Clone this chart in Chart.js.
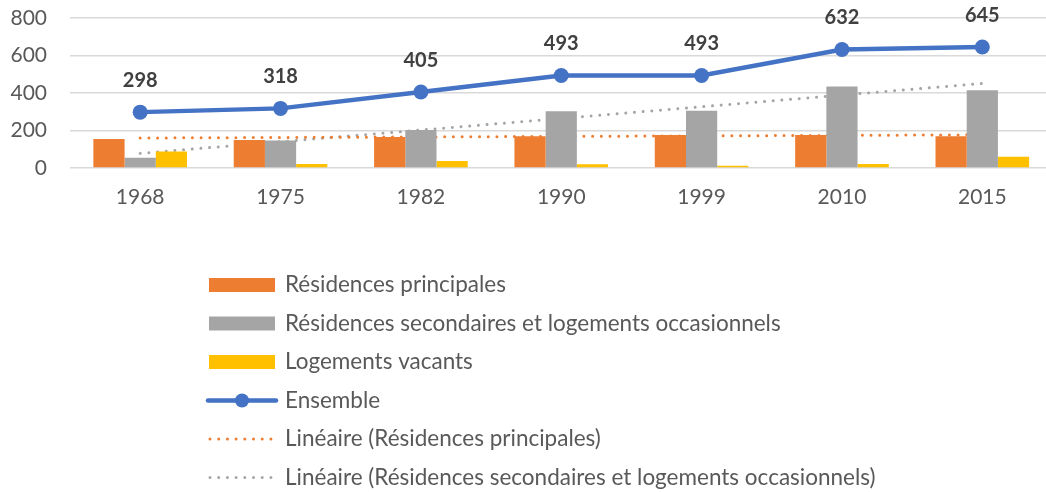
<!DOCTYPE html>
<html>
<head>
<meta charset="utf-8">
<script src="https://cdn.jsdelivr.net/npm/chart.js@4.4.1/dist/chart.umd.min.js"></script>
<style>
  html, body { margin: 0; padding: 0; background: #fff; overflow: hidden; }
  #wrap { position: relative; width: 1060px; height: 492px; }
</style>
</head>
<body>
<div id="wrap"><canvas id="c"></canvas></div>
<script>
// ---- data ----
const categories = ['1968', '1975', '1982', '1990', '1999', '2010', '2015'];
const residencesPrincipales = [155, 150, 165, 170, 176, 176, 170];
const residencesSecondaires = [55, 147, 203, 303, 305, 435, 415];
const logementsVacants = [88, 21, 37, 20, 12, 21, 60];
const ensemble = [298, 318, 405, 493, 493, 632, 645];
// trend lines: endpoints (straight lines)
const trendPrincipales = [160, null, null, null, null, null, 177];
const trendSecondaires = [78, null, null, null, null, null, 451];
const yTicks = [0, 200, 400, 600, 800];

const seriesNames = {
  rp: 'Résidences principales',
  rs: 'Résidences secondaires et logements occasionnels',
  lv: 'Logements vacants',
  en: 'Ensemble',
  trp: 'Linéaire (Résidences principales)',
  trs: 'Linéaire (Résidences secondaires et logements occasionnels)'
};

const COL = { orange: '#ED7D31', grey: '#A5A5A5', yellow: '#FFC000', blue: '#4472C4' };
const FONT = 'Lato, "Open Sans", sans-serif';
const TEXT = '#595959';

const dotDash = [0.001, 8.7];

// data labels on the Ensemble line
const labelPlugin = {
  id: 'ensembleLabels',
  afterDatasetsDraw(chart) {
    const ctx = chart.ctx;
    chart.data.datasets.forEach((ds, i) => {
      if (!ds.showValues) return;
      const meta = chart.getDatasetMeta(i);
      ctx.save();
      ctx.font = 'bold 20px ' + FONT;
      ctx.fillStyle = '#404040';
      ctx.textAlign = 'center';
      ctx.textBaseline = 'middle';
      meta.data.forEach((pt, j) => {
        ctx.fillText(String(ds.data[j]), pt.x, pt.y - 32);
      });
      ctx.restore();
    });
  }
};

// vertical legend drawn below the plot
const legendPlugin = {
  id: 'vertLegend',
  afterDraw(chart) {
    const ctx = chart.ctx;
    const x0 = 209, sw = 66, tx = 285, y0 = 285, step = 38.5;
    const order = chart.data.datasets.map((d, i) => i).sort((a, b) => chart.data.datasets[a].legendIndex - chart.data.datasets[b].legendIndex);
    ctx.save();
    ctx.font = '22.5px ' + FONT;
    ctx.textBaseline = 'middle';
    ctx.textAlign = 'left';
    order.forEach((i, k) => {
      const ds = chart.data.datasets[i];
      const y = y0 + k * step;
      if (ds.type === 'bar' || !ds.type) {
        ctx.fillStyle = ds.backgroundColor;
        ctx.fillRect(x0, y - 7, sw, 14);
      } else if (ds.legendKind === 'marker') {
        ctx.strokeStyle = ds.borderColor;
        ctx.lineWidth = 4.5;
        ctx.lineCap = 'round';
        ctx.beginPath(); ctx.moveTo(x0 - 1, y); ctx.lineTo(x0 + sw + 1, y); ctx.stroke();
        ctx.fillStyle = ds.borderColor;
        ctx.beginPath(); ctx.arc(x0 + sw / 2, y, 7, 0, Math.PI * 2); ctx.fill();
      } else {
        ctx.strokeStyle = ds.borderColor;
        ctx.lineWidth = 3;
        ctx.lineCap = 'round';
        ctx.setLineDash(dotDash);
        ctx.beginPath(); ctx.moveTo(x0 + 1, y); ctx.lineTo(x0 + sw, y); ctx.stroke();
        ctx.setLineDash([]);
      }
      ctx.fillStyle = TEXT;
      ctx.fillText(ds.label, tx, y);
    });
    ctx.restore();
  }
};

new Chart(document.getElementById('c'), {
  data: {
    labels: categories,
    datasets: [
      { type: 'bar', label: seriesNames.rp, data: residencesPrincipales, backgroundColor: COL.orange, order: 2, legendIndex: 0 },
      { type: 'bar', label: seriesNames.rs, data: residencesSecondaires, backgroundColor: COL.grey, order: 2, legendIndex: 1 },
      { type: 'bar', label: seriesNames.lv, data: logementsVacants, backgroundColor: COL.yellow, order: 2, legendIndex: 2 },
      { type: 'line', label: seriesNames.en, data: ensemble, borderColor: COL.blue, backgroundColor: COL.blue,
        borderWidth: 4.5, pointRadius: 7.5, pointHoverRadius: 7.5, pointBackgroundColor: COL.blue, pointBorderWidth: 0,
        tension: 0, order: 0, legendIndex: 3, legendKind: 'marker', showValues: true },
      { type: 'line', label: seriesNames.trp, data: trendPrincipales, borderColor: COL.orange, borderWidth: 3,
        borderDash: dotDash, borderCapStyle: 'round', pointRadius: 0, spanGaps: true, fill: false, order: 3, legendIndex: 4 },
      { type: 'line', label: seriesNames.trs, data: trendSecondaires, borderColor: COL.grey, borderWidth: 3,
        borderDash: dotDash, borderCapStyle: 'round', pointRadius: 0, spanGaps: true, fill: false, order: 3, legendIndex: 5 }
    ]
  },
  options: {
    responsive: true,
    maintainAspectRatio: false,
    animation: false,
    datasets: { bar: { categoryPercentage: 0.667, barPercentage: 1.0 } },
    layout: { padding: { left: 10, right: 3, top: 0, bottom: 264 } },
    plugins: { legend: { display: false }, tooltip: { enabled: false } },
    scales: {
      x: {
        offset: true,
        afterFit(axis) { axis.height = 60; axis.paddingLeft = 0; axis.paddingRight = 0; },
        grid: { display: false, drawTicks: false },
        border: { display: false },
        ticks: { color: TEXT, font: { family: FONT, size: 21 }, padding: 17, maxRotation: 0 }
      },
      y: {
        min: 0, max: 800,
        afterBuildTicks(axis) { axis.ticks = yTicks.map(v => ({ value: v })); },
        afterFit(axis) { axis.width = 60; axis.paddingTop = 18; axis.paddingBottom = 0; },
        grid: { color: '#D9D9D9', lineWidth: 1.5, drawTicks: false },
        border: { display: false },
        ticks: { color: TEXT, font: { family: FONT, size: 21 }, padding: 23 }
      }
    }
  },
  plugins: [labelPlugin, legendPlugin]
});
</script>
</body>
</html>
